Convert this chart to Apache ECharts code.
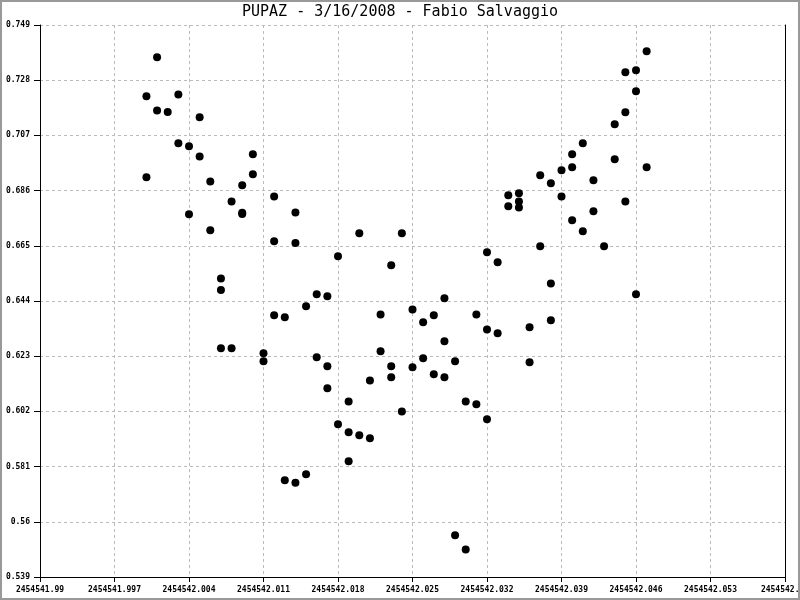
<!DOCTYPE html>
<html>
<head>
<meta charset="utf-8">
<script src="https://cdn.jsdelivr.net/npm/echarts@6/dist/echarts.min.js"></script>
<style>
html,body{margin:0;padding:0;background:#fff;}
#c{width:800px;height:600px;}
</style>
</head>
<body>
<div id="c"></div>
<script>
// Julian dates of each observation
const jd = [
2454542.000,2454542.000,
2454542.001,2454542.001,
2454542.002,
2454542.003,2454542.003,
2454542.004,2454542.004,
2454542.005,2454542.005,
2454542.006,2454542.006,
2454542.007,2454542.007,2454542.007,
2454542.008,2454542.008,
2454542.009,2454542.009,2454542.009,
2454542.010,2454542.010,
2454542.011,2454542.011,
2454542.012,2454542.012,2454542.012,
2454542.013,2454542.013,
2454542.014,2454542.014,2454542.014,
2454542.015,2454542.015,
2454542.016,2454542.016,
2454542.017,2454542.017,2454542.017,
2454542.018,2454542.018,
2454542.019,2454542.019,2454542.019,
2454542.020,2454542.020,
2454542.021,2454542.021,
2454542.022,2454542.022,
2454542.023,2454542.023,2454542.023,
2454542.024,2454542.024,
2454542.025,2454542.025,
2454542.026,2454542.026,
2454542.027,2454542.027,
2454542.028,2454542.028,2454542.028,
2454542.029,2454542.029,
2454542.030,2454542.030,
2454542.031,2454542.031,
2454542.032,2454542.032,2454542.032,
2454542.033,2454542.033,
2454542.034,2454542.034,
2454542.035,2454542.035,2454542.035,
2454542.036,2454542.036,
2454542.037,2454542.037,
2454542.038,2454542.038,2454542.038,
2454542.039,2454542.039,
2454542.040,2454542.040,2454542.040,
2454542.041,2454542.041,
2454542.042,2454542.042,
2454542.043,
2454542.044,2454542.044,
2454542.045,2454542.045,2454542.045,
2454542.046,2454542.046,2454542.046,
2454542.047,2454542.047
];
// Measured values
const mag = [
0.7219,0.6911,
0.7367,0.7165,
0.7159,
0.7226,0.7040,
0.7029,0.6770,
0.7139,0.6990,
0.6895,0.6709,
0.6526,0.6482,0.6260,
0.6819,0.6260,
0.6880,0.6776,0.6771,
0.6998,0.6922,
0.6241,0.6211,
0.6838,0.6667,0.6386,
0.6378,0.5758,
0.6777,0.6661,0.5749,
0.6420,0.5781,
0.6466,0.6226,
0.6458,0.6192,0.6108,
0.6610,0.5971,
0.6058,0.5941,0.5830,
0.6698,0.5929,
0.6138,0.5918,
0.6389,0.6249,
0.6576,0.6192,0.6150,
0.6698,0.6020,
0.6408,0.6188,
0.6359,0.6222,
0.6386,0.6161,
0.6450,0.6287,0.6150,
0.6211,0.5549,
0.6058,0.5495,
0.6389,0.6047,
0.6625,0.6332,0.5990,
0.6587,0.6317,
0.6842,0.6800,
0.6850,0.6819,0.6796,
0.6340,0.6207,
0.6918,0.6648,
0.6888,0.6507,0.6367,
0.6937,0.6838,
0.6998,0.6949,0.6747,
0.7040,0.6705,
0.6899,0.6781,
0.6648,
0.7112,0.6979,
0.7310,0.7158,0.6819,
0.7318,0.7238,0.6466,
0.7390,0.6949
];
const titleText = 'PUPAZ - 3/16/2008 - Fabio Salvaggio';
// axis extents (real units)
const xStart = 2454541.99, xEnd = 2454542.06, xStep = 0.007;
const yStart = 0.539, yEnd = 0.749, yStep = 0.021;

// axes are offset (in thousandths) so ticks start exactly at the minimum
const xOff = v => (v - xStart) * 1000;
const yOff = v => (v - yStart) * 1000;
const data = jd.map((x, i) => [xOff(x), yOff(mag[i])]);

const FONT = 'DejaVu Sans Mono';
const chart = echarts.init(document.getElementById('c'), null, {renderer: 'canvas'});
chart.setOption({
  animation: false,
  backgroundColor: '#fff',
  title: {
    text: titleText, left: 'center', top: 5, padding: 0,
    textStyle: {fontFamily: FONT, fontSize: 15, fontWeight: 'normal', color: '#000'}
  },
  grid: {left: 40, right: 15, top: 25, bottom: 23, containLabel: false, outerBoundsMode: 'none'},
  xAxis: {
    type: 'value', min: 0, max: Math.round((xEnd - xStart) * 1000), interval: Math.round(xStep * 1000),
    axisLine: {show: true, onZero: false, lineStyle: {color: '#000', width: 1}},
    axisTick: {show: true, length: 5, lineStyle: {color: '#000'}},
    axisLabel: {
      margin: 9, fontFamily: FONT, fontSize: 8, fontWeight: 'bold', color: '#000', hideOverlap: false,
      formatter: v => String(Math.round(xStart * 1000 + v) / 1000)
    },
    splitLine: {show: true, lineStyle: {color: '#bbb', type: [3, 3], width: 1}}
  },
  yAxis: [{
    type: 'value', min: 0, max: Math.round((yEnd - yStart) * 1000), interval: Math.round(yStep * 1000),
    axisLine: {show: true, onZero: false, lineStyle: {color: '#000', width: 1}},
    axisTick: {show: true, length: 6, lineStyle: {color: '#000'}},
    axisLabel: {
      margin: 10, fontFamily: FONT, fontSize: 8, fontWeight: 'bold', color: '#000',
      formatter: v => String(Math.round(yStart * 1000 + v) / 1000)
    },
    splitLine: {show: true, lineStyle: {color: '#bbb', type: [3, 3], width: 1}}
  }, {
    type: 'value', position: 'right', min: 0, max: Math.round((yEnd - yStart) * 1000),
    interval: Math.round(yStep * 1000),
    axisLine: {show: true, onZero: false, lineStyle: {color: '#000', width: 1}},
    axisTick: {show: false}, axisLabel: {show: false}, splitLine: {show: false}
  }],
  graphic: [{
    type: 'rect', silent: true, z: 100,
    shape: {x: 1, y: 1, width: 798, height: 598},
    style: {fill: 'none', stroke: '#999', lineWidth: 2}
  }],
  series: [{
    type: 'scatter', symbol: 'circle', symbolSize: 8,
    itemStyle: {color: '#000', opacity: 1},
    data: data
  }]
});
</script>
</body>
</html>
